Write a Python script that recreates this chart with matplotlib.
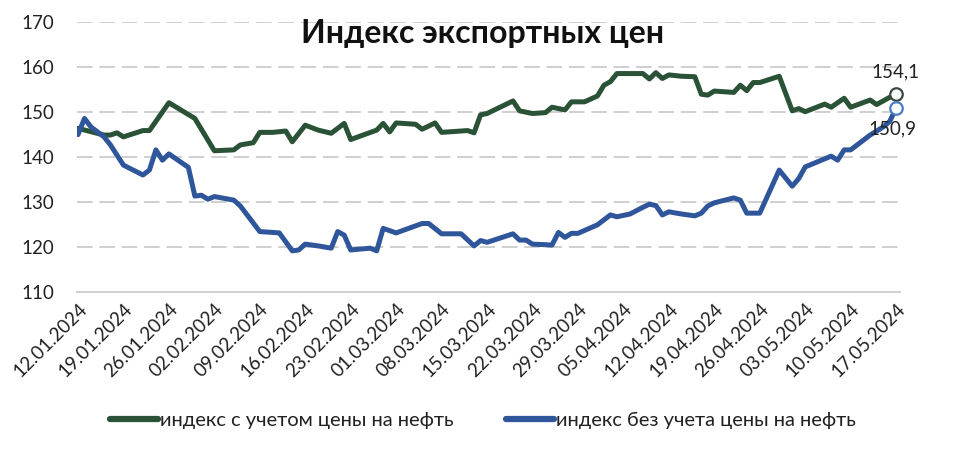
import numpy as np
import matplotlib
matplotlib.use('Agg')
import matplotlib.pyplot as plt
from datetime import date, timedelta

plt.rcParams['font.family'] = ['Lato', 'DejaVu Sans']

# data: calendar days since 12.01.2024 and index values
start = date(2024, 1, 12)

oil_days = [0, 4, 5, 6, 7, 10, 11, 14, 18, 21, 24, 25, 27, 28, 30, 32, 33,
            35, 37, 39, 41, 42, 46, 47, 48, 49, 52, 53, 55, 56, 60, 61, 62,
            63, 67, 68, 70, 72, 73, 75, 76, 78, 80, 81, 82, 83, 87, 88, 89,
            90, 91, 93, 95, 96, 97, 98, 101, 102, 103, 104, 105, 108, 110,
            111, 112, 115, 116, 118, 119, 122, 123, 126]
oil_vals = [146.4, 144.9, 144.9, 145.4, 144.5, 145.9, 145.9, 152.1, 148.6,
            141.4, 141.6, 142.7, 143.2, 145.5, 145.5, 145.8, 143.4, 147.1,
            146.0, 145.3, 147.5, 143.9, 146.0, 147.5, 145.6, 147.6, 147.3,
            146.2, 147.6, 145.5, 145.9, 145.4, 149.4, 149.7, 152.5, 150.3,
            149.7, 149.9, 151.1, 150.5, 152.3, 152.3, 153.6, 156.0, 156.8,
            158.6, 158.6, 157.4, 158.8, 157.5, 158.3, 158.0, 157.9, 154.0,
            153.8, 154.7, 154.4, 156.0, 154.8, 156.6, 156.6, 158.0, 150.3,
            150.8, 150.1, 151.8, 151.1, 153.1, 151.1, 152.7, 151.7, 154.1]

nooil_days = [0, 1, 2, 4, 5, 7, 10, 11, 12, 13, 14, 17, 18, 19, 20, 21, 24,
              25, 28, 31, 33, 34, 35, 37, 39, 40, 41, 42, 45, 46, 47, 49, 53,
              54, 56, 59, 61, 62, 63, 67, 68, 69, 70, 73, 74, 75, 76, 77, 80,
              82, 83, 85, 87, 88, 89, 90, 91, 93, 95, 96, 97, 98, 101, 102,
              103, 105, 108, 110, 111, 112, 116, 117, 118, 119, 122, 124,
              125, 126]
nooil_vals = [145.0, 148.6, 146.7, 144.5, 142.7, 138.2, 136.0, 137.1, 141.6,
              139.3, 140.7, 137.7, 131.3, 131.5, 130.6, 131.2, 130.4, 129.1,
              123.4, 123.1, 119.1, 119.3, 120.6, 120.2, 119.7, 123.4, 122.6,
              119.3, 119.7, 119.1, 124.1, 123.1, 125.2, 125.2, 122.9, 122.9,
              120.2, 121.4, 121.0, 122.9, 121.5, 121.5, 120.6, 120.4, 123.2,
              122.1, 123.0, 123.0, 124.9, 127.1, 126.7, 127.3, 128.8, 129.5,
              129.2, 127.1, 127.8, 127.3, 126.9, 127.5, 129.1, 129.8, 130.9,
              130.4, 127.5, 127.5, 137.1, 133.5, 135.2, 137.8, 140.2, 139.3,
              141.6, 141.6, 144.9, 146.7, 147.9, 150.9]

tick_days = list(range(0, 127, 7))
tick_labels = [(start + timedelta(days=d)).strftime('%d.%m.%Y') for d in tick_days]

green = '#2a5237'
blue = '#2f569b'

fig = plt.figure(figsize=(9.66, 4.5), dpi=100)
ax = fig.add_axes([76.7/966, 1 - 291.7/450, (900 - 76.7)/966, (291.7 - 22.4)/450])

ax.plot(oil_days, oil_vals, color=green, lw=3.6, solid_joinstyle='round',
        solid_capstyle='round', label='индекс с учетом цены на нефть', zorder=3)
ax.plot(nooil_days, nooil_vals, color=blue, lw=3.6, solid_joinstyle='round',
        solid_capstyle='round', label='индекс без учета цены на нефть', zorder=3)

# end markers and labels
ax.plot(oil_days[-1], oil_vals[-1], 'o', ms=9, mfc='white', mec='#3a4a3e',
        mew=1.6, zorder=4, clip_on=False)
ax.plot(nooil_days[-1], nooil_vals[-1], 'o', ms=9, mfc='white', mec='#4a7cc4',
        mew=1.6, zorder=4, clip_on=False)
ax.annotate('154,1', (oil_days[-1], oil_vals[-1]), xytext=(-18, 10),
            textcoords='offset points', ha='left', va='bottom', fontsize=13.5,
            color='#222222')
ax.annotate('150,9', (nooil_days[-1], nooil_vals[-1]), xytext=(-20, -9),
            textcoords='offset points', ha='left', va='top', fontsize=13.5,
            color='#222222')

ax.set_xlim(-0.2, 126.6)
ax.set_ylim(110, 170)
ax.set_yticks(range(110, 171, 10))
ax.set_xticks(tick_days)
ax.set_xticklabels(tick_labels, rotation=45, ha='right', va='top',
                   rotation_mode='anchor', fontsize=13.5, color='#222222')
ax.tick_params(axis='y', labelsize=13.5, length=0, pad=16, colors='#222222')
ax.tick_params(axis='x', length=0, pad=6)

for y in range(120, 171, 10):
    ax.axhline(y, color='#cfcfcf', lw=1.4, dashes=(8, 3.5), zorder=1)
for s in ['top', 'right', 'left']:
    ax.spines[s].set_visible(False)
ax.spines['bottom'].set_color('#d0d0d0')
ax.spines['bottom'].set_linewidth(1.4)

fig.text(0.5, 0.925, 'Индекс экспортных цен', ha='center', va='center',
         fontsize=23, fontweight='bold', color='#111111')

leg = fig.legend(loc='center', bbox_to_anchor=(0.5, 1 - 420/450), ncol=2,
                 frameon=False, fontsize=14.5, handlelength=2.4,
                 handletextpad=0.1, columnspacing=2.6)
for t in leg.get_texts():
    t.set_color('#222222')
for h in leg.get_lines():
    h.set_linewidth(4.5)

fig.savefig('out.png', dpi=100)
